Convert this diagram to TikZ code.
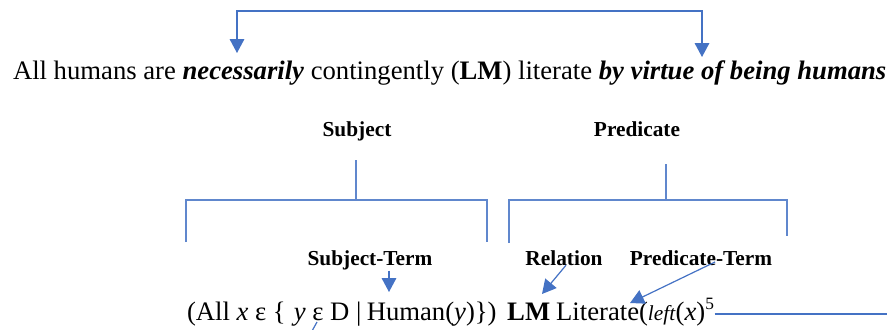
\documentclass[tikz,border=0pt]{standalone}
\usepackage{fontspec}
\setmainfont{Liberation Serif}[BoldFont={Liberation Serif Bold},ItalicFont={Liberation Serif Italic},BoldItalicFont={Liberation Serif Bold Italic}]
\usetikzlibrary{arrows.meta,calc}
\definecolor{wordblue}{RGB}{68,114,196}
\begin{document}
\begin{tikzpicture}[x=0.75pt,y=-0.75pt,
  txt/.style={inner sep=0pt,outer sep=0pt,anchor=base west,font=\fontsize{20}{24}\selectfont},
  ftxt/.style={inner sep=0pt,outer sep=0pt,anchor=base west,font=\fontsize{20}{24}\selectfont},
  lbl/.style={inner sep=0pt,outer sep=0pt,anchor=base,font=\fontsize{16}{19}\selectfont\bfseries},
  conn/.style={draw=wordblue,line width=0.9pt},
  brk/.style={draw=wordblue!85,line width=1pt},
  tip/.style={-{Triangle[length=10.5pt,width=11pt]}}]
\useasboundingbox (0,0) rectangle (887,329);
% main sentence
\node[txt] (s1) at (13,79) {All humans are};
\node[txt] (nec) at ([xshift=5pt]s1.base east) {\textbf{\textit{necessarily}}};
\node[txt] (s3) at ([xshift=5pt]nec.base east) {contingently (\textbf{LM}) literate};
\node[txt] (byv) at ([xshift=5pt]s3.base east) {\textbf{\textit{by virtue of being humans}}};
\draw[conn,{Triangle[length=10.5pt,width=11pt]}-{Triangle[length=10.5pt,width=11pt]}]
  (237,53) -- (237,11) -- (702,11) -- (702,57);
% labels
\node[lbl] (subj) at (357,136) {Subject};
\node[lbl] (pred) at (637,136) {Predicate};
\draw[brk] (356,160) -- (356,200);
\draw[brk] (186,242) -- (186,200) -- (487,200) -- (487,242);
\draw[brk] (666,164) -- (666,200);
\draw[brk] (509,243) -- (509,200) -- (787,200) -- (787,236);
\node[lbl] (st) at (370,265) {Subject-Term};
\node[lbl] (rel) at (564,265) {Relation};
\node[lbl] (pt) at (701,265) {Predicate-Term};
% formula
\node[ftxt] (f1) at (187,320) {(All \textit{x} ε \{\hspace{0.3em}\textit{y} ε D |};
\node[ftxt] (hum) at ([xshift=4pt]f1.base east) {Human};
\node[ftxt] (f2) at (hum.base east) {(\textit{y})\})};
\node[ftxt] (lm) at ([xshift=8pt]f2.base east) {\textbf{LM}};
\node[ftxt] (lit) at ([xshift=4.5pt]lm.base east) {Literate(};
\node[ftxt] (lft) at (lit.base east) {\fontsize{16}{18}\selectfont\textit{left}};
\node[ftxt] (f3) at (lft.base east) {(\textit{x})\textsuperscript{\fontsize{13}{15}\selectfont 5}};
\draw[conn,tip] (st.south -| 389,0) ++(0,1) -- (389,292);
\draw[conn,tip] (rel.south) ++(2,0) -- (542,294);
\draw[conn,tip] (715,262) -- (630,303);
\coordinate (e1) at (317,322);
\coordinate (e2) at (312,331);
\draw[conn] (e1) -- (e2);
\coordinate (r1) at (887,314);
\draw[conn] (f3.east |- r1) -- (r1);
\end{tikzpicture}
\end{document}
